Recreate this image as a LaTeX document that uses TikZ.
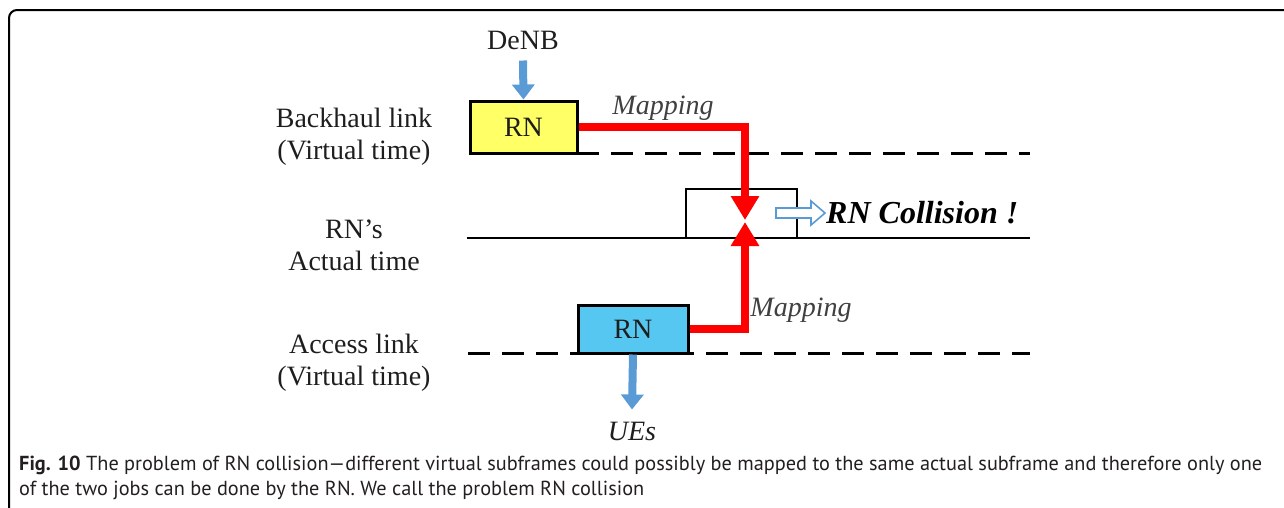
\documentclass[tikz,border=0pt]{standalone}
\usepackage{fontspec}
\setmainfont{Liberation Serif}
\newfontfamily\capfont{PT Sans}
\usetikzlibrary{arrows.meta}
\definecolor{ybox}{RGB}{255,255,102}
\definecolor{cbox}{RGB}{85,199,240}
\definecolor{sblue}{RGB}{91,155,213}
\definecolor{mapred}{RGB}{255,0,0}
\definecolor{captxt}{RGB}{35,31,32}
\definecolor{lblgray}{RGB}{30,30,30}
\tikzset{
  lbl/.style={font=\fontsize{28}{32}\selectfont, align=center, text=lblgray, inner sep=0pt},
  maplbl/.style={font=\fontsize{28}{32}\selectfont\itshape, text=lblgray!85, inner sep=0pt},
  rnbox/.style={draw=black, line width=3pt, minimum width=107pt, minimum height=52pt,
    inner sep=0pt, font=\fontsize{28}{32}\selectfont, text=lblgray},
  timeline/.style={line width=2.8pt, black},
  vdash/.style={line width=3pt, black, dash pattern=on 22pt off 12pt},
  bluearrow/.style={sblue, line width=8pt, -{Triangle[length=15pt 0, width=22pt 0]}},
  maparrow/.style={mapred, line width=8pt, -{Triangle[length=24pt 0, width=27pt 0]}},
  hollowarrow/.style={draw=sblue, line width=1.6pt, fill=white, line join=miter},
  caption/.style={font=\capfont\fontsize{20.3}{25}\selectfont, text=captxt, anchor=base west, inner sep=0pt}
}
\begin{document}
\begin{tikzpicture}[x=1pt,y=-1pt]
\useasboundingbox (0,0) rectangle (1284,507);
% outer frame (top and left edges, rounded corner)
\draw[line width=2pt, black, rounded corners=8pt] (9,508) -- (9,10) -- (1285,10);

% time lines
\draw[vdash] (577,153) -- (1030,153);
\draw[timeline] (467,238) -- (1030,238);
\draw[vdash] (468,353) -- (1030,353);

% row labels
\node[lbl] (lbh) at (354,137) {Backhaul link\\(Virtual time)};
\node[lbl] (lact) at (354,245) {RN’s\\Actual time};
\node[lbl] (lacc) at (354,363) {Access link\\(Virtual time)};

% subframe boxes
\node[rnbox, fill=ybox] (rnb) at (523.5,127) {RN};
\node[rnbox, fill=cbox, minimum width=110pt, minimum height=48pt] (rna) at (633,329) {RN};
\draw[timeline] (686,238) |- (797,189) -- (797,238);

% source and sink
\node[lbl] (denb) at (523,40) {DeNB};
\node[lbl, font=\fontsize{28}{32}\selectfont\itshape] (ues) at (632,431) {UEs};
\draw[bluearrow] ([yshift=-11pt]denb.south) -- (rnb.north);
\draw[bluearrow] (rna.south) -- ([yshift=12pt]ues.north);

% mapping connectors
\coordinate (tipd) at (745,220);
\coordinate (tipu) at (745,222);
\draw[maparrow] (rnb.east) -| (tipd);
\draw[maparrow] (rna.east) -| (tipu);
\node[maplbl] (map1) at (663,108) {Mapping};
\node[maplbl] (map2) at (801,310) {Mapping};

% collision note with an outlined block arrow
\node[font=\fontsize{32}{36}\selectfont\bfseries\itshape, anchor=west, inner sep=0pt] (coll) at (826,213) {RN Collision !};
\draw[hollowarrow] (776,208) -- (811,208) -- (811,201) -- (825,213) -- (811,225) -- (811,218) -- (776,218) -- cycle;

% caption
\node[caption] (cap1) at (19,470) {{\bfseries Fig. 10} The problem of RN collision—different virtual subframes could possibly be mapped to the same actual subframe and therefore only one};
\node[caption] (cap2) at (19,495) {of the two jobs can be done by the RN. We call the problem RN collision};
\end{tikzpicture}
\end{document}
